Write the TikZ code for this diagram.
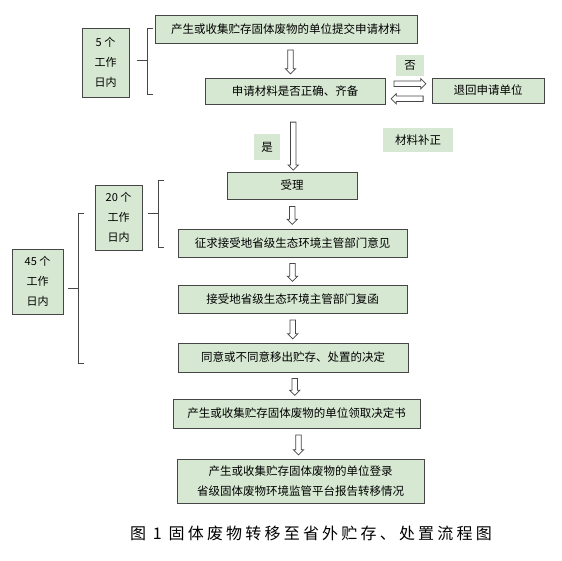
\documentclass[tikz,border=0pt]{standalone}
\usepackage{fontspec}
\usetikzlibrary{calc,positioning,shapes.arrows}
\newfontfamily\cjk{Noto Sans CJK SC}
\newfontfamily\capfont[LetterSpace=20]{Noto Sans CJK SC}
\definecolor{boxgreen}{RGB}{214,232,210}
\definecolor{boxline}{RGB}{70,70,70}
\tikzset{
  stepbox/.style={draw=boxline,line width=0.8pt,fill=boxgreen,inner sep=0pt,
    font=\cjk\fontsize{11.5}{20}\selectfont},
  daybox/.style={stepbox,align=center,font=\cjk\fontsize{11}{20}\selectfont},
  tagbox/.style={fill=boxgreen,inner sep=0pt,font=\cjk\fontsize{11.5}{13}\selectfont},
  hollow/.style={single arrow,draw=boxline,line width=0.8pt,fill=white,
    inner sep=2.4pt,single arrow head extend=2.4pt,
    single arrow tip angle=90,minimum width=0pt},
  downarr/.style={hollow,shape border rotate=270,minimum height=#1},
  bracket/.style={draw=boxline,line width=0.8pt},
}
\newcommand{\spanbrk}[4]{% x, top, bottom, middle
  \draw[bracket] ({#1+6},#2) -- (#1,#2) -- (#1,#3) -- ({#1+6},#3);
  \draw[bracket] (#1,#4) -- ({#1-10},#4);}

\begin{document}
\begin{tikzpicture}[x=1pt,y=-1pt]
  \useasboundingbox (0,0) rectangle (562,560);
  % main column
  \node[stepbox,minimum width=262pt,minimum height=28pt] (submit) at (286,29) {产生或收集贮存固体废物的单位提交申请材料};
  \node[stepbox,minimum width=180pt,minimum height=26pt] (check) at (295,91) {申请材料是否正确、齐备};
  \node[stepbox,minimum width=112pt,minimum height=25pt] (back) at (488,90.5) {退回申请单位};
  \node[stepbox,minimum width=130pt,minimum height=27pt] (accept) at (292,185.5) {受理};
  \node[stepbox,minimum width=229pt,minimum height=28pt] (consult) at (292.5,243) {征求接受地省级生态环境主管部门意见};
  \node[stepbox,minimum width=229pt,minimum height=28pt] (reply) at (292.5,299) {接受地省级生态环境主管部门复函};
  \node[stepbox,minimum width=230pt,minimum height=29pt] (decide) at (293,357.5) {同意或不同意移出贮存、处置的决定};
  \node[stepbox,minimum width=247pt,minimum height=29pt] (collect) at (296.5,413.5) {产生或收集贮存固体废物的单位领取决定书};
  \node[stepbox,minimum width=247pt,minimum height=44pt,align=center] (report) at (300.5,481) {产生或收集贮存固体废物的单位登录\\省级固体废物环境监管平台报告转移情况};

  % labels
  \node[tagbox,minimum width=28pt,minimum height=21pt] (no) at (410,65.5) {否};
  \node[tagbox,minimum width=26pt,minimum height=26pt] (yes) at (267,147) {是};
  \node[tagbox,minimum width=70pt,minimum height=24pt] (fix) at (418,140) {材料补正};

  % hollow arrows
  \node[downarr=24pt] (a1) at ($(submit.south)!0.5!(check.north)$) {};
  \node[downarr=48pt] (a2) at ($(check.south)!0.6!(accept.north)$) {};
  \node[downarr=18pt] (a3) at ($(accept.south)!0.5!(consult.north)$) {};
  \node[downarr=18pt] (a4) at ($(consult.south)!0.5!(reply.north)$) {};
  \node[downarr=19pt] (a5) at ($(reply.south)!0.5!(decide.north)$) {};
  \node[downarr=17pt] (a6) at ($(decide.south)!0.5!(collect.north)$) {};
  \node[downarr=20pt] (a7) at ($(collect.south)!0.5!(report.north)$) {};
  \node[hollow,minimum height=32pt] (ato) at ($(check.east)!0.5!(back.west)+(0,-7)$) {};
  \node[hollow,shape border rotate=180,minimum height=32pt] (afrom) at ($(check.east)!0.5!(back.west)+(0,8)$) {};

  % time limits
  \node[daybox,minimum width=47pt,minimum height=69pt] (d5) at (105.5,62.5) {5 个\\工作\\日内};
  \node[daybox,minimum width=47pt,minimum height=65pt] (d20) at (118.5,217.5) {20 个\\工作\\日内};
  \node[daybox,minimum width=51pt,minimum height=65pt] (d45) at (37.5,281.5) {45 个\\工作\\日内};
  \spanbrk{147}{28}{94}{60}
  \spanbrk{158}{180}{247}{213}
  \spanbrk{78}{213}{363}{288}

  \node[font=\capfont\fontsize{16}{20}\selectfont] (cap) at (311,533) {图 1 固体废物转移至省外贮存、处置流程图};
\end{tikzpicture}
\end{document}
